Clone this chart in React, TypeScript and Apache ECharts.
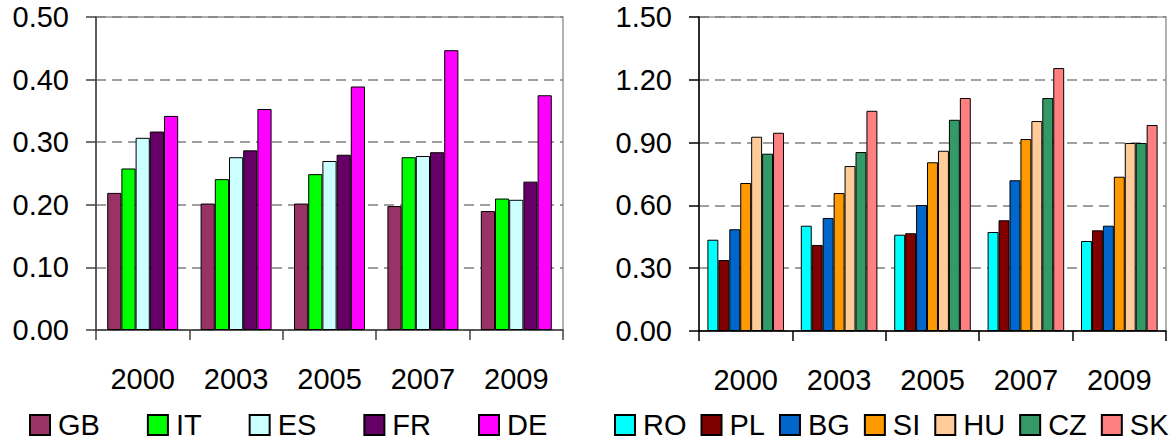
import React, { useEffect, useRef } from "react";
import * as echarts from "echarts";

const years = ["2000", "2003", "2005", "2007", "2009"];

const leftNames = ["GB", "IT", "ES", "FR", "DE"];
const leftColors = ["#993366", "#00FF00", "#CCFFFF", "#660066", "#FF00FF"];
const GB = [0.219, 0.202, 0.202, 0.198, 0.19];
const IT = [0.258, 0.241, 0.249, 0.276, 0.21];
const ES = [0.307, 0.276, 0.27, 0.278, 0.208];
const FR = [0.317, 0.287, 0.28, 0.284, 0.237];
const DE = [0.342, 0.353, 0.389, 0.447, 0.375];
const leftData = [GB, IT, ES, FR, DE];

const rightNames = ["RO", "PL", "BG", "SI", "HU", "CZ", "SK"];
const rightColors = ["#00FFFF", "#800000", "#0066CC", "#FF9900", "#FFCC99", "#339966", "#FF8080"];
const RO = [0.436, 0.503, 0.46, 0.473, 0.43];
const PL = [0.339, 0.411, 0.467, 0.529, 0.481];
const BG = [0.486, 0.54, 0.602, 0.72, 0.503];
const SI = [0.707, 0.659, 0.806, 0.917, 0.737];
const HU = [0.928, 0.788, 0.861, 1.003, 0.898];
const CZ = [0.847, 0.855, 1.009, 1.113, 0.898];
const SK = [0.947, 1.052, 1.113, 1.256, 0.984];
const rightData = [RO, PL, BG, SI, HU, CZ, SK];

const FONT = "'Liberation Sans', Arial, sans-serif";
const FS = 29;

export default function App() {
  const ref = useRef<HTMLDivElement>(null);
  useEffect(() => {
    document.body.style.margin = "0";
    if (!ref.current) return;
    const chart = echarts.init(ref.current, null, { renderer: "svg" });
    const xAxisBase = (gridIndex: number, axisColor: string) => ({
      type: "category",
      gridIndex,
      data: years,
      boundaryGap: true,
      axisLine: { show: true, lineStyle: { color: axisColor, width: 1.5 } },
      axisTick: { show: true, length: 10, inside: false, alignWithLabel: false, lineStyle: { color: axisColor, width: 1.5 } },
      axisLabel: { margin: 34, fontSize: FS, color: "#000", fontFamily: FONT },
      splitLine: { show: false },
    });
    const yAxisBase = (gridIndex: number, max: number, interval: number, axisColor: string) => ({
      type: "value",
      gridIndex,
      min: 0,
      max,
      interval,
      axisLine: { show: true, lineStyle: { color: axisColor, width: 1.5 } },
      axisTick: { show: true, length: 10, lineStyle: { color: axisColor, width: 1.5 } },
      axisLabel: {
        margin: 27,
        fontSize: FS,
        color: "#000",
        fontFamily: FONT,
        formatter: (v: number) => v.toFixed(2),
      },
      splitLine: { show: true, lineStyle: { color: "#808080", width: 1.5, type: [10, 6] } },
    });
    const leftSeries = leftNames.map((name, i) => ({
      name,
      type: "bar",
      xAxisIndex: 0,
      yAxisIndex: 0,
      data: leftData[i],
      barGap: "0%",
      barCategoryGap: "24%",
      itemStyle: { color: leftColors[i], borderColor: "#000", borderWidth: 1 },
    }));
    const rightSeries = rightNames.map((name, i) => ({
      name,
      type: "bar",
      xAxisIndex: 1,
      yAxisIndex: 1,
      data: rightData[i],
      barGap: "0%",
      barCategoryGap: "18%",
      itemStyle: { color: rightColors[i], borderColor: "#000", borderWidth: 1 },
    }));
    const legendText = { fontSize: FS, lineHeight: 30, color: "#000", fontFamily: FONT, padding: [0, 0, 0, 3] };
    chart.setOption({
      animation: false,
      backgroundColor: "#fff",
      grid: [
        { left: 96, right: 609, top: 17, bottom: 116, show: true, borderColor: "#999", borderWidth: 1.5, backgroundColor: "transparent" },
        { left: 699, right: 6, top: 17, bottom: 115, show: true, borderColor: "#999", borderWidth: 1.5, backgroundColor: "transparent" },
      ],
      legend: [
        {
          data: leftNames,
          left: 29,
          top: 410,
          padding: 0,
          itemWidth: 20,
          itemHeight: 20,
          itemGap: 47,
          icon: "rect",
          textStyle: legendText,
          selectedMode: false,
        },
        {
          data: rightNames,
          left: 614,
          top: 410,
          padding: 0,
          itemWidth: 20,
          itemHeight: 20,
          itemGap: 14,
          icon: "rect",
          textStyle: legendText,
          selectedMode: false,
        },
      ],
      xAxis: [xAxisBase(0, "#404040"), xAxisBase(1, "#000")],
      yAxis: [yAxisBase(0, 0.5, 0.1, "#404040"), yAxisBase(1, 1.5, 0.3, "#000")],
      series: [...leftSeries, ...rightSeries],
    });
    return () => chart.dispose();
  }, []);
  return <div ref={ref} style={{ width: 1172, height: 446 }} />;
}
